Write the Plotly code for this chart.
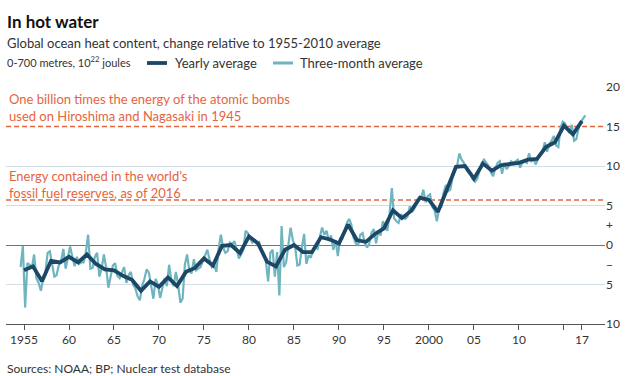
import plotly.graph_objects as go

# ---------------- data ----------------
years = list(range(1955, 2018))
yearly = [-3.2, -2.7, -4.6, -2.0, -2.2, -1.5, -2.2, -1.2, -2.4, -3.1,
          -3.2, -3.9, -4.4, -5.8, -4.6, -5.3, -4.1, -5.2, -3.4, -2.9,
          -1.7, -2.6, -0.1, 0.0, -1.0, 1.1, 0.2, -2.1, -2.7, -0.6,
          0.0, -0.9, -0.9, 1.0, 0.7, 0.2, 2.6, 0.6, 0.4, 1.4,
          2.1, 4.4, 3.4, 4.3, 6.0, 5.7, 4.2, 7.0, 9.9, 10.0,
          8.4, 10.3, 9.4, 10.1, 10.2, 10.4, 10.8, 10.9, 12.4, 13.0,
          15.1, 14.0, 15.7]

# three-month averages, four per year (1955 Q1 ... 2017 Q4)
quarterly = [
    -2.8, -0.1, -7.9, -2.3,      # 1955
    -2.5, -2.9, -1.2, -4.2,      # 1956
    -4.8, -5.8, -4.3, -3.5,      # 1957
    -1.0, -0.8, -2.4, -4.0,      # 1958
    -3.8, -2.5, -2.0, -0.5,      # 1959
    -3.0, -1.5, -0.2, -1.5,      # 1960
    -2.7, -1.5, -2.4, -2.2,      # 1961
    -2.2, -0.9, 1.3, -3.0,       # 1962
    -2.9, -1.5, -1.0, -4.0,      # 1963
    -3.0, -1.2, -2.8, -5.4,      # 1964
    -4.0, -2.6, -2.3, -3.9,      # 1965
    -4.2, -3.6, -2.8, -4.8,      # 1966
    -3.8, -3.4, -5.0, -5.5,      # 1967
    -6.5, -7.0, -5.2, -4.3,      # 1968
    -3.1, -3.5, -5.0, -6.8,      # 1969
    -4.3, -5.0, -6.7, -5.2,      # 1970
    -4.2, -5.2, -2.5, -4.5,      # 1971
    -5.2, -3.4, -5.0, -7.3,      # 1972
    -6.8, -2.5, -1.2, -3.3,      # 1973
    -3.6, -1.8, -3.2, -3.0,      # 1974
    -2.8, -2.0, -1.4, -0.6,      # 1975
    -1.9, -2.8, -2.5, -3.4,      # 1976
    -0.5, 1.3, -0.3, -1.0,       # 1977
    -0.8, 0.3, 0.1, 0.5,         # 1978
    -0.5, -1.7, -1.2, -0.6,      # 1979
    1.8, 1.5, 0.8, 0.3,          # 1980
    0.6, 0.3, 0.4, -0.5,         # 1981
    -1.0, -2.0, -4.6, -1.0,      # 1982
    -0.6, -4.0, -0.9, -6.4,      # 1983
    2.4, -2.8, -2.2, 0.0,        # 1984
    2.2, 0.6, -0.2, -2.6,        # 1985
    -2.5, -0.3, 1.4, -2.4,       # 1986
    -1.3, -1.6, -0.5, -0.3,      # 1987
    -0.5, 1.0, 2.2, 1.3,         # 1988
    1.8, 0.5, 1.2, -0.6,         # 1989
    0.6, -1.4, 0.8, 0.8,         # 1990
    1.8, 2.8, 3.3, 2.6,          # 1991
    0.9, 0.2, 0.0, 1.3,          # 1992
    1.5, 0.2, -0.3, 0.2,         # 1993
    1.6, 2.0, 0.2, 1.8,          # 1994
    1.2, 3.0, 2.4, 1.8,          # 1995
    4.0, 7.2, 3.4, 3.0,          # 1996
    2.8, 3.9, 3.6, 3.3,          # 1997
    3.6, 4.9, 4.2, 4.6,          # 1998
    5.2, 5.8, 6.0, 7.0,          # 1999
    5.4, 6.2, 6.4, 4.8,          # 2000
    4.4, 3.0, 4.6, 4.8,          # 2001
    6.6, 7.6, 6.8, 7.0,          # 2002
    8.6, 9.4, 10.0, 11.6,        # 2003
    10.8, 10.4, 9.6, 9.2,        # 2004
    8.9, 8.3, 8.0, 8.4,          # 2005
    9.6, 10.4, 10.8, 10.4,       # 2006
    10.0, 9.2, 8.7, 9.7,         # 2007
    10.4, 10.6, 9.0, 10.4,       # 2008
    9.6, 10.0, 10.6, 10.4,       # 2009
    10.6, 10.8, 9.8, 10.4,       # 2010
    10.6, 10.4, 11.6, 10.6,      # 2011
    10.8, 10.2, 11.0, 11.6,      # 2012
    12.0, 13.0, 11.8, 12.8,      # 2013
    13.2, 13.8, 12.6, 12.4,      # 2014
    14.9, 15.6, 15.4, 14.6,      # 2015
    14.2, 15.2, 13.2, 13.4,      # 2016
    14.8, 15.6, 16.0, 16.4,      # 2017
]
quarter_offsets = [-0.375, -0.125, 0.125, 0.375]
quarter_x = [y + o for y in years for o in quarter_offsets]

x_tickvals = [1955, 1960, 1965, 1970, 1975, 1980, 1985, 1990, 1995, 2000, 2005, 2010, 2015, 2017]
x_ticktext = ["1955", "60", "65", "70", "75", "80", "85", "90", "95", "2000", "05", "10", "", "17"]
# gridded ticks (15 is left for the dashed reference line)
y_tickvals = [-10, -5, 0, 5, 10, 20]
y_ticktext = ["10", "5", "0", "5", "10", "20"]
# ungridded ticks
extra_tickvals = [15, 2.5, -2.5]
extra_ticktext = ["15", "+", "\u2212"]

bombs_level = 15.0
fossil_level = 5.7

# ---------------- style ----------------
W, H = 632, 376
ML, MR, MT, MB = 6, 27, 87, 52
FONT = "Lato"
DARK = "#1d4766"
TEAL = "#6fb5c0"
RED = "#e0473a"
ORANGE = "#e5643e"
GRID = "#d3dde5"
TXT = "#333333"


def px(xp):
    return (xp - ML) / (W - ML - MR)


def py(yp):
    return (H - MB - yp) / (H - MT - MB)


fig = go.Figure()
fig.add_trace(go.Scatter(x=quarter_x, y=quarterly, mode="lines",
                         line=dict(color=TEAL, width=2.2), name="Three-month average",
                         showlegend=False))
fig.add_trace(go.Scatter(x=years, y=yearly, mode="lines",
                         line=dict(color=DARK, width=3.8), name="Yearly average",
                         showlegend=False))
# invisible trace to carry the extra labels on a second axis
fig.add_trace(go.Scatter(x=[years[0]], y=[0], yaxis="y2", mode="markers",
                         marker=dict(opacity=0), showlegend=False, hoverinfo="skip"))

for lvl in (bombs_level, fossil_level):
    fig.add_shape(type="line", xref="paper", x0=0, x1=1, yref="y", y0=lvl, y1=lvl,
                  line=dict(color=ORANGE, width=1.5, dash="5px,3px"), layer="below")

ann = []
ann.append(dict(text="<b>In hot water</b>", x=px(5), y=py(21), font=dict(size=17, color="#111")))
ann.append(dict(text="Global ocean heat content, change relative to 1955-2010 average",
                x=px(5), y=py(43), font=dict(size=13, color=TXT)))
ann.append(dict(text="0-700 metres, 10<sup>22</sup> joules", x=px(5), y=py(62),
                font=dict(size=11, color=TXT)))
ann.append(dict(text="Yearly average", x=px(173), y=py(63), font=dict(size=13, color=TXT)))
ann.append(dict(text="Three-month average", x=px(298), y=py(63), font=dict(size=13, color=TXT)))
ann.append(dict(text="One billion times the energy of the atomic bombs<br>used on Hiroshima and Nagasaki in 1945",
                x=px(7), y=py(107.5), font=dict(size=13, color=ORANGE)))
ann.append(dict(text="Energy contained in the world\u2019s<br>fossil fuel reserves, as of 2016",
                x=px(7), y=py(184.5), font=dict(size=13, color=ORANGE)))
ann.append(dict(text="Sources: NOAA; BP; Nuclear test database", x=px(5), y=py(368),
                font=dict(size=12, color=TXT)))
for a in ann:
    a.update(xref="paper", yref="paper", xanchor="left", yanchor="middle",
             showarrow=False, align="left")
    fig.add_annotation(**a)

fig.add_shape(type="line", xref="paper", yref="paper", x0=px(147), x1=px(167),
              y0=py(63), y1=py(63), line=dict(color=DARK, width=3.8))
fig.add_shape(type="line", xref="paper", yref="paper", x0=px(273), x1=px(293),
              y0=py(63), y1=py(63), line=dict(color=TEAL, width=3))

fig.update_layout(
    width=W, height=H,
    margin=dict(l=ML, r=MR, t=MT, b=MB),
    paper_bgcolor="white", plot_bgcolor="white",
    font=dict(family=FONT, color=TXT, size=12),
    showlegend=False,
    hovermode=False,
    xaxis=dict(range=[1953.0, 2019.56], tickvals=x_tickvals, ticktext=x_ticktext,
               showgrid=False, zeroline=False, showline=True, linecolor="#555",
               linewidth=1, ticks="outside", ticklen=5, tickcolor="#555",
               tickfont=dict(size=12, color=TXT)),
    yaxis=dict(range=[-10, 20], side="right", tickvals=y_tickvals, ticktext=y_ticktext,
               showgrid=True, gridcolor=GRID, gridwidth=1,
               zeroline=True, zerolinecolor=RED, zerolinewidth=1.3,
               showline=False, ticks="", tickfont=dict(size=12, color=TXT)),
    yaxis2=dict(range=[-10, 20], side="right", overlaying="y", tickvals=extra_tickvals,
                ticktext=extra_ticktext, showgrid=False, zeroline=False, ticks="",
                tickfont=dict(size=12, color=TXT)),
)

fig.write_html("out.html", config={"displayModeBar": False},
               post_script="document.body.style.margin='0';document.body.style.padding='0';")
